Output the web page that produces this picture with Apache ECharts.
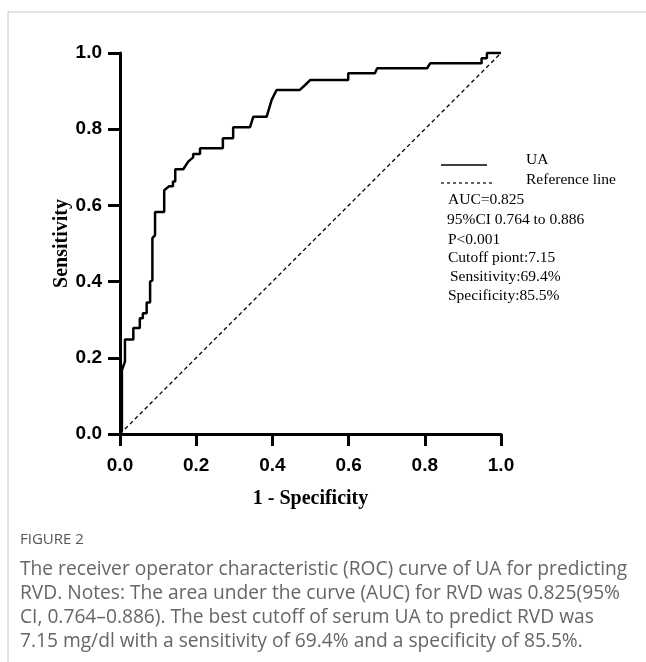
<!DOCTYPE html>
<html>
<head>
<meta charset="utf-8">
<script src="https://cdn.jsdelivr.net/npm/echarts@6/dist/echarts.min.js"></script>
<style>
html,body{margin:0;padding:0;background:#fff;}
#chart{width:646px;height:662px;}
</style>
</head>
<body>
<div id="chart"></div>
<script>
// ROC curve of UA: 1 - Specificity (x) and Sensitivity (y)
var fpr = [0, 0.005, 0.005, 0.013, 0.013, 0.035, 0.035, 0.052, 0.052, 0.060, 0.060, 0.070, 0.070, 0.079, 0.079, 0.085, 0.085, 0.092, 0.092, 0.116, 0.116, 0.129, 0.139, 0.139, 0.145, 0.145, 0.166, 0.179, 0.192, 0.192, 0.210, 0.210, 0.270, 0.270, 0.297, 0.297, 0.341, 0.350, 0.385, 0.398, 0.411, 0.472, 0.486, 0.499, 0.599, 0.599, 0.669, 0.675, 0.806, 0.814, 0.949, 0.949, 0.963, 0.963, 1.0];
var tpr = [0, 0.010, 0.168, 0.190, 0.248, 0.248, 0.278, 0.278, 0.304, 0.304, 0.317, 0.317, 0.345, 0.345, 0.400, 0.403, 0.514, 0.522, 0.583, 0.583, 0.640, 0.650, 0.650, 0.663, 0.663, 0.695, 0.695, 0.715, 0.726, 0.735, 0.735, 0.750, 0.750, 0.776, 0.776, 0.805, 0.805, 0.833, 0.833, 0.877, 0.903, 0.903, 0.916, 0.929, 0.929, 0.947, 0.947, 0.960, 0.960, 0.973, 0.973, 0.986, 0.986, 1.0, 1.0];
var refX = [0, 1];
var refY = [0, 1];
var tickLabels = ['0.0', '0.2', '0.4', '0.6', '0.8', '1.0'];
var legendNames = ['UA', 'Reference line'];
var statLines = ['AUC=0.825', '95%CI 0.764 to 0.886', 'P<0.001', 'Cutoff piont:7.15', 'Sensitivity:69.4%', 'Specificity:85.5%'];
var captionTitle = 'FIGURE 2';
var captionLines = [
  'The receiver operator characteristic (ROC) curve of UA for predicting',
  'RVD. Notes: The area under the curve (AUC) for RVD was 0.825(95%',
  'CI, 0.764\u20130.886). The best cutoff of serum UA to predict RVD was',
  '7.15 mg/dl with a sensitivity of 69.4% and a specificity of 85.5%.'
];

var chart = echarts.init(document.getElementById('chart'), null, {renderer: 'canvas'});

function fmt(v) {
  var i = Math.round(v / 0.2);
  return tickLabels[i] !== undefined ? tickLabels[i] : '';
}

var axisCommon = {
  type: 'value', min: 0, max: 1, interval: 0.2,
  axisLine: {show: true, lineStyle: {color: '#000', width: 3}},
  axisTick: {show: true, length: 12, lineStyle: {color: '#000', width: 3}},
  splitLine: {show: false},
  axisLabel: {formatter: fmt, color: '#000', fontFamily: 'Liberation Sans', fontWeight: 'bold', fontSize: 19},
  nameLocation: 'middle',
  nameMoveOverlap: false,
  nameTextStyle: {color: '#000', fontFamily: 'Liberation Serif', fontWeight: 'bold', fontSize: 20}
};

var serif = '"Liberation Serif"';
var graphics = [
  {type: 'line', shape: {x1: 8, y1: 12, x2: 646, y2: 12}, style: {stroke: '#c8c8c8', lineWidth: 1}},
  {type: 'line', shape: {x1: 8, y1: 12, x2: 8, y2: 662}, style: {stroke: '#c8c8c8', lineWidth: 1}},
  {type: 'line', shape: {x1: 441, y1: 165, x2: 487, y2: 165}, style: {stroke: '#000', lineWidth: 1.5}},
  {type: 'line', shape: {x1: 441, y1: 183, x2: 495, y2: 183}, style: {stroke: '#000', lineWidth: 1.2, lineDash: [3, 3]}},
  {type: 'text', x: 526, y: 160, style: {text: legendNames[0], font: '15.5px ' + serif, fill: '#000', textVerticalAlign: 'middle'}},
  {type: 'text', x: 526, y: 179.5, style: {text: legendNames[1], font: '15.5px ' + serif, fill: '#000', textVerticalAlign: 'middle'}},
  {type: 'text', x: 20, y: 540, style: {text: captionTitle, font: '15px "Open Sans"', fill: '#555', textVerticalAlign: 'middle'}}
];
var statY = [200, 219.5, 240, 257.5, 277, 296];
var statX = [448, 447, 448, 448, 450, 448];
statLines.forEach(function (s, i) {
  graphics.push({type: 'text', x: statX[i], y: statY[i], style: {text: s, font: '15.5px ' + serif, fill: '#000', textVerticalAlign: 'middle'}});
});
captionLines.forEach(function (s, i) {
  graphics.push({type: 'text', x: 20, y: 570 + i * 24, style: {text: s, font: '19.2px "Open Sans"', fill: '#666', textVerticalAlign: 'middle'}});
});

chart.setOption({
  animation: false,
  backgroundColor: '#fff',
  grid: {left: 120, top: 53, width: 381, height: 381, containLabel: false},
  xAxis: echarts.util.merge({name: '1 - Specificity', nameGap: 55, axisLabel: {margin: 22}}, axisCommon),
  yAxis: echarts.util.merge({name: 'Sensitivity', nameGap: 48, axisLabel: {margin: 18}}, axisCommon),
  series: [
    {name: legendNames[0], type: 'line', data: fpr.map(function (x, i) { return [x, tpr[i]]; }),
     showSymbol: false, symbol: 'none', lineStyle: {color: '#000', width: 2.5}, clip: false, z: 3},
    {name: legendNames[1], type: 'line', data: refX.map(function (x, i) { return [x, refY[i]]; }),
     showSymbol: false, symbol: 'none', lineStyle: {color: '#000', width: 1.3, type: [4, 3]}, z: 2}
  ],
  graphic: graphics
});
</script>
</body>
</html>
